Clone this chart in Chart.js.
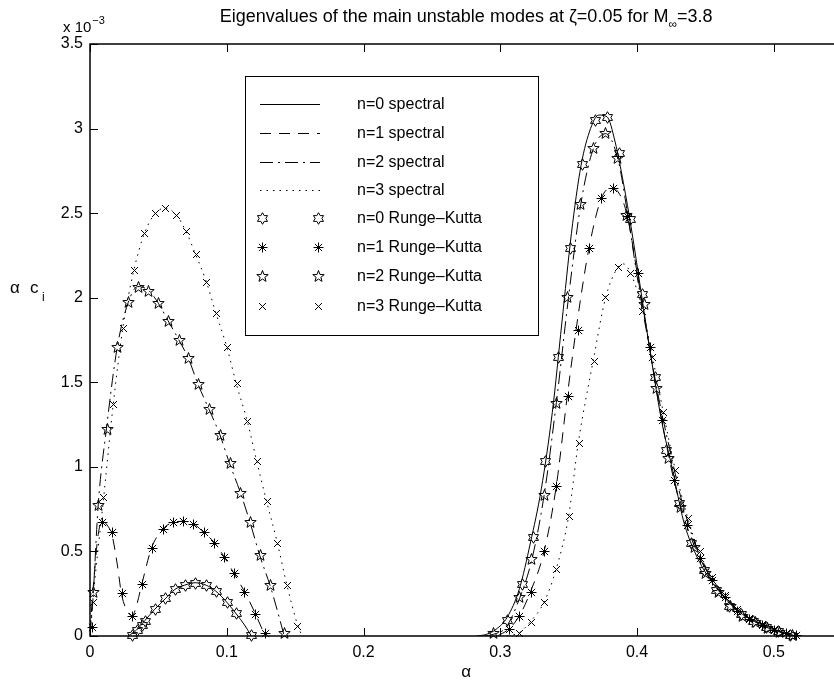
<!DOCTYPE html>
<html>
<head>
<meta charset="utf-8">
<script src="https://cdn.jsdelivr.net/npm/chart.js@4.4.0/dist/chart.umd.min.js"></script>
<style>
  html, body { margin: 0; padding: 0; background: #fff; overflow: hidden; }
  #wrap { width: 834px; height: 681px; position: relative; }
</style>
</head>
<body>
<div id="wrap"><canvas id="eig"></canvas></div>
<script>
// axis ticks (alpha, and alpha*c_i in units of 1e-3)
const xTicks = [0, 0.1, 0.2, 0.3, 0.4, 0.5];
const yTicks = [0, 0.5, 1, 1.5, 2, 2.5, 3, 3.5];

// spectral curves, left lobe and right lobe
const sp0LeftA = [0.028, 0.034, 0.040, 0.047, 0.055, 0.062, 0.069, 0.077, 0.085, 0.092, 0.100, 0.107, 0.113, 0.118];
const sp0LeftC = [0.00, 0.035, 0.09, 0.155, 0.22, 0.275, 0.30, 0.315, 0.30, 0.265, 0.20, 0.13, 0.065, 0.0];
const sp0RightA = [0.283, 0.290, 0.297, 0.305, 0.314, 0.322, 0.330, 0.338, 0.345, 0.352, 0.359, 0.366, 0.372, 0.378, 0.384, 0.390, 0.396, 0.403, 0.410, 0.418, 0.426, 0.434, 0.442, 0.452, 0.462, 0.472, 0.482, 0.492, 0.502, 0.510, 0.516];
const sp0RightC = [0.0, 0.01, 0.04, 0.11, 0.28, 0.55, 0.87, 1.32, 1.85, 2.38, 2.78, 3.0, 3.08, 3.07, 2.92, 2.68, 2.40, 2.03, 1.66, 1.27, 0.98, 0.68, 0.50, 0.35, 0.245, 0.16, 0.105, 0.07, 0.035, 0.012, 0.0];

const sp1LeftA = [0.000, 0.003, 0.006, 0.009, 0.013, 0.016, 0.020, 0.023, 0.027, 0.031, 0.034, 0.038, 0.045, 0.053, 0.061, 0.068, 0.076, 0.083, 0.091, 0.098, 0.105, 0.113, 0.121, 0.128];
const sp1LeftC = [0.03, 0.35, 0.60, 0.68, 0.65, 0.60, 0.42, 0.25, 0.15, 0.12, 0.18, 0.31, 0.52, 0.63, 0.672, 0.678, 0.662, 0.613, 0.552, 0.469, 0.374, 0.262, 0.13, 0.0];
const sp1RightA = [0.298, 0.306, 0.314, 0.322, 0.332, 0.341, 0.349, 0.357, 0.365, 0.374, 0.382, 0.388, 0.393, 0.400, 0.409, 0.418, 0.427, 0.436, 0.446, 0.455, 0.465, 0.475, 0.485, 0.495, 0.505, 0.512, 0.517];
const sp1RightC = [0.0, 0.04, 0.12, 0.26, 0.50, 0.89, 1.42, 1.90, 2.30, 2.59, 2.65, 2.60, 2.48, 2.15, 1.71, 1.28, 0.92, 0.66, 0.46, 0.33, 0.22, 0.14, 0.09, 0.05, 0.025, 0.008, 0.0];

const sp2LeftA = [0.000, 0.002, 0.006, 0.012, 0.020, 0.028, 0.035, 0.043, 0.050, 0.057, 0.065, 0.072, 0.079, 0.087, 0.095, 0.102, 0.110, 0.117, 0.124, 0.132, 0.137, 0.142];
const sp2LeftC = [0.0, 0.20, 0.775, 1.224, 1.711, 1.973, 2.066, 2.042, 1.967, 1.865, 1.75, 1.64, 1.488, 1.34, 1.189, 1.021, 0.847, 0.672, 0.479, 0.29, 0.15, 0.0];
const sp2RightA = [0.288, 0.295, 0.304, 0.314, 0.323, 0.332, 0.341, 0.350, 0.359, 0.368, 0.377, 0.386, 0.393, 0.400, 0.408, 0.416, 0.424, 0.432, 0.440, 0.450, 0.460, 0.470, 0.480, 0.490, 0.500, 0.510, 0.516];
const sp2RightC = [0.0, 0.01, 0.05, 0.22, 0.45, 0.83, 1.38, 2.01, 2.56, 2.88, 2.97, 2.82, 2.50, 2.13, 1.75, 1.40, 1.10, 0.82, 0.60, 0.40, 0.27, 0.18, 0.11, 0.07, 0.035, 0.01, 0.0];

const sp3LeftA = [0.000, 0.002, 0.010, 0.017, 0.024, 0.032, 0.040, 0.048, 0.055, 0.063, 0.070, 0.077, 0.085, 0.092, 0.100, 0.107, 0.115, 0.122, 0.129, 0.137, 0.144, 0.152, 0.155];
const sp3LeftC = [0.0, 0.20, 0.82, 1.37, 1.82, 2.16, 2.385, 2.50, 2.53, 2.49, 2.395, 2.26, 2.095, 1.91, 1.71, 1.49, 1.27, 1.03, 0.80, 0.55, 0.30, 0.06, 0.0];
const sp3RightA = [0.305, 0.314, 0.322, 0.332, 0.341, 0.350, 0.357, 0.368, 0.377, 0.386, 0.390, 0.395, 0.404, 0.412, 0.419, 0.428, 0.437, 0.446, 0.455, 0.465, 0.475, 0.485, 0.495, 0.505, 0.512, 0.517];
const sp3RightC = [0.0, 0.02, 0.085, 0.20, 0.40, 0.71, 1.14, 1.63, 2.00, 2.18, 2.20, 2.15, 1.93, 1.62, 1.33, 0.98, 0.70, 0.48, 0.34, 0.23, 0.15, 0.10, 0.06, 0.03, 0.01, 0.0];

// Runge-Kutta points
const rk0A = [0.0305, 0.0341, 0.0378, 0.0402, 0.0475, 0.0549, 0.0622, 0.0695, 0.0768, 0.0849, 0.0922, 0.1000, 0.1070, 0.1175,
              0.3048, 0.3158, 0.3238, 0.3328, 0.3419, 0.3511, 0.3597, 0.3689, 0.3780, 0.3865, 0.3945, 0.4036, 0.4128, 0.4214, 0.4304, 0.4395, 0.4487, 0.4580, 0.4670, 0.4760, 0.4850, 0.4940, 0.5030, 0.5120];
const rk0C = [0.006, 0.035, 0.065, 0.09, 0.158, 0.223, 0.276, 0.30, 0.315, 0.30, 0.268, 0.203, 0.134, 0.006,
              0.095, 0.306, 0.584, 1.037, 1.652, 2.296, 2.789, 3.051, 3.067, 2.854, 2.464, 2.02, 1.53, 1.10, 0.785, 0.55, 0.39, 0.27, 0.18, 0.13, 0.09, 0.055, 0.03, 0.008];

const rk1A = [0.0012, 0.0085, 0.0159, 0.0232, 0.0305, 0.0378, 0.0451, 0.0532, 0.0610, 0.0683, 0.0756, 0.0834, 0.0907, 0.0980, 0.1053, 0.1127, 0.1205, 0.1280,
              0.3060, 0.3140, 0.3224, 0.3316, 0.3409, 0.3492, 0.3565, 0.3645, 0.3736, 0.3823, 0.3926, 0.4006, 0.4097, 0.4182, 0.4272, 0.4365, 0.4462, 0.4548, 0.4640, 0.4730, 0.4820, 0.4910, 0.5000, 0.5090, 0.5160];
const rk1C = [0.055, 0.672, 0.617, 0.252, 0.12, 0.31, 0.522, 0.63, 0.672, 0.678, 0.662, 0.613, 0.552, 0.469, 0.374, 0.262, 0.13, 0.02,
              0.04, 0.118, 0.258, 0.504, 0.889, 1.419, 1.81, 2.296, 2.588, 2.647, 2.484, 2.145, 1.711, 1.277, 0.923, 0.656, 0.46, 0.331, 0.23, 0.15, 0.10, 0.065, 0.035, 0.015, 0.004];

const rk2A = [0.0024, 0.0061, 0.0122, 0.0200, 0.0276, 0.0349, 0.0427, 0.0500, 0.0573, 0.0649, 0.0719, 0.0793, 0.0873, 0.0951, 0.1024, 0.1097, 0.1170, 0.1244, 0.1317, 0.1415,
              0.2950, 0.3140, 0.3224, 0.3316, 0.3409, 0.3490, 0.3584, 0.3677, 0.3767, 0.3853, 0.3921, 0.4048, 0.4138, 0.4223, 0.4313, 0.4413, 0.4500, 0.4590, 0.4680, 0.4770, 0.4860, 0.4950, 0.5040, 0.5130];
const rk2C = [0.262, 0.775, 1.224, 1.711, 1.973, 2.066, 2.042, 1.967, 1.865, 1.75, 1.642, 1.488, 1.34, 1.189, 1.021, 0.847, 0.672, 0.479, 0.30, 0.02,
              0.016, 0.232, 0.454, 0.834, 1.38, 2.006, 2.555, 2.884, 2.973, 2.825, 2.49, 1.963, 1.465, 1.051, 0.76, 0.528, 0.37, 0.26, 0.18, 0.12, 0.08, 0.05, 0.025, 0.006];

const rk3A = [0.0024, 0.0097, 0.0166, 0.0244, 0.0324, 0.0397, 0.0475, 0.0549, 0.0627, 0.0700, 0.0773, 0.0849, 0.0922, 0.1000, 0.1073, 0.1146, 0.1220, 0.1293, 0.1366, 0.1439, 0.1512,
              0.3140, 0.3224, 0.3316, 0.3409, 0.3499, 0.3572, 0.3682, 0.3767, 0.3857, 0.3945, 0.4036, 0.4110, 0.4190, 0.4280, 0.4370, 0.4460, 0.4550, 0.4640, 0.4730, 0.4820, 0.4910, 0.5000, 0.5090];
const rk3C = [0.199, 0.824, 1.372, 1.823, 2.164, 2.385, 2.50, 2.529, 2.49, 2.395, 2.259, 2.095, 1.912, 1.711, 1.494, 1.273, 1.035, 0.80, 0.55, 0.30, 0.06,
              0.02, 0.085, 0.203, 0.396, 0.71, 1.14, 1.626, 2.006, 2.184, 2.145, 1.924, 1.65, 1.327, 0.982, 0.70, 0.50, 0.35, 0.24, 0.16, 0.105, 0.07, 0.04, 0.015];

const legendLabels = ['n=0 spectral', 'n=1 spectral', 'n=2 spectral', 'n=3 spectral',
                      'n=0 Runge\u2013Kutta', 'n=1 Runge\u2013Kutta', 'n=2 Runge\u2013Kutta', 'n=3 Runge\u2013Kutta'];

const FONT = '"Liberation Sans", Arial, Helvetica, sans-serif';
const xMax = 0.544;   // picture is cut off just before 0.55

function toPoints(a, c) {
  return a.map((v, i) => ({ x: v, y: c[i] }));
}
function twoLobes(aL, cL, aR, cR) {
  // null in between so the line breaks between the lobes
  return toPoints(aL, cL).concat([{ x: 0.2, y: null }], toPoints(aR, cR));
}

const markerKinds = ['hex', 'ast', 'pent', 'x'];
const dashes = [[], [11, 8], [13, 5, 2, 5], [1.5, 5]];

// matlab style markers: hexagram, asterisk, pentagram, x
function drawMarker(ctx, kind, px, py) {
  const m = Math.round(px) + 0.5, n = Math.round(py) + 0.5;
  function star(k, ro, ri) {
    ctx.beginPath();
    for (let j = 0; j < 2 * k; j++) {
      const r = j % 2 ? ri : ro;
      const ang = -Math.PI / 2 + j * Math.PI / k;
      const qx = m + r * Math.cos(ang), qy = n + r * Math.sin(ang);
      if (j === 0) ctx.moveTo(qx, qy); else ctx.lineTo(qx, qy);
    }
    ctx.closePath();
    ctx.stroke();
  }
  ctx.beginPath();
  if (kind === 'hex') {
    star(6, 5.8, 5.8 / Math.sqrt(3));
  } else if (kind === 'pent') {
    star(5, 6, 2.5);
  } else if (kind === 'ast') {
    ctx.moveTo(m, n - 5); ctx.lineTo(m, n + 5);
    ctx.moveTo(m - 5, n); ctx.lineTo(m + 5, n);
    ctx.moveTo(m - 3.6, n - 3.6); ctx.lineTo(m + 3.6, n + 3.6);
    ctx.moveTo(m - 3.6, n + 3.6); ctx.lineTo(m + 3.6, n - 3.6);
    ctx.stroke();
  } else {
    ctx.moveTo(m - 3.5, n - 3.5); ctx.lineTo(m + 3.5, n + 3.5);
    ctx.moveTo(m - 3.5, n + 3.5); ctx.lineTo(m + 3.5, n - 3.5);
    ctx.stroke();
  }
}

function spectralSet(data, i) {
  return {
    label: legendLabels[i],
    data: data,
    showLine: true,
    borderColor: '#000',
    borderWidth: 1,
    borderDash: dashes[i],
    pointRadius: 0,
    cubicInterpolationMode: 'monotone',
    spanGaps: false
  };
}
function rkSet(a, c, i) {
  return {
    label: legendLabels[i + 4],
    data: toPoints(a, c),
    showLine: false,
    pointRadius: 0,
    marker: markerKinds[i]
  };
}

// draws the RK markers at the element positions the chart computed
const rkMarkers = {
  id: 'rkMarkers',
  afterDatasetsDraw(chart) {
    const ctx = chart.ctx;
    ctx.save();
    ctx.strokeStyle = '#000';
    ctx.lineWidth = 1;
    ctx.setLineDash([]);
    chart.data.datasets.forEach((ds, i) => {
      if (!ds.marker) return;
      chart.getDatasetMeta(i).data.forEach(el => drawMarker(ctx, ds.marker, el.x, el.y));
    });
    ctx.restore();
  }
};

const decor = {
  id: 'decor',
  afterDraw(chart) {
    const { ctx, chartArea: a, scales: { x, y } } = chart;
    ctx.save();

    // axes box (right side is cut off in the picture)
    ctx.strokeStyle = '#000';
    ctx.lineWidth = 1.5;
    ctx.setLineDash([]);
    ctx.beginPath();
    ctx.moveTo(a.right, a.top); ctx.lineTo(a.left, a.top);
    ctx.lineTo(a.left, a.bottom); ctx.lineTo(a.right, a.bottom);
    ctx.stroke();

    // inward ticks
    ctx.lineWidth = 1;
    ctx.beginPath();
    xTicks.forEach(v => {
      const px = Math.round(x.getPixelForValue(v)) + 0.5;
      ctx.moveTo(px, a.bottom); ctx.lineTo(px, a.bottom - 8);
      ctx.moveTo(px, a.top); ctx.lineTo(px, a.top + 8);
    });
    yTicks.forEach(v => {
      const py = Math.round(y.getPixelForValue(v)) + 0.5;
      ctx.moveTo(a.left, py); ctx.lineTo(a.left + 8, py);
    });
    ctx.stroke();

    ctx.fillStyle = '#000';
    ctx.textBaseline = 'alphabetic';
    ctx.textAlign = 'left';

    // title with subscript infinity
    const t1 = 'Eigenvalues of the main unstable modes at \u03b6=0.05 for M';
    const t2 = '\u221e';
    const t3 = '=3.8';
    ctx.font = '18px ' + FONT;
    const w1 = ctx.measureText(t1).width, w3 = ctx.measureText(t3).width;
    ctx.font = '12px ' + FONT;
    const w2 = ctx.measureText(t2).width;
    const cx = x.getPixelForValue(0.275);
    const tx = cx - (w1 + w2 + w3) / 2;
    ctx.font = '18px ' + FONT;
    ctx.fillText(t1, tx, 22);
    ctx.font = '12px ' + FONT;
    ctx.fillText(t2, tx + w1, 28);
    ctx.font = '18px ' + FONT;
    ctx.fillText(t3, tx + w1 + w2, 22);

    // exponent label
    ctx.font = '15px ' + FONT;
    ctx.fillText('x 10', 63, 32);
    const wx = ctx.measureText('x 10').width;
    ctx.font = '11px ' + FONT;
    ctx.fillText('\u22123', 63 + wx + 1, 24);

    // y label
    ctx.font = '17px ' + FONT;
    ctx.fillText('\u03b1', 10, 293);
    ctx.fillText('c', 30, 293);
    ctx.font = '12px ' + FONT;
    ctx.fillText('i', 42, 301);

    // x label
    ctx.font = '17px ' + FONT;
    ctx.textAlign = 'center';
    ctx.fillText('\u03b1', x.getPixelForValue(0.275), 677);

    // legend box
    const L = 245, T = 76, R = 538, B = 335;
    ctx.fillStyle = '#fff';
    ctx.fillRect(L, T, R - L, B - T);
    ctx.strokeStyle = '#000';
    ctx.lineWidth = 1;
    ctx.strokeRect(L + 0.5, T + 0.5, R - L, B - T);
    const rows = [104, 133, 162, 190, 218, 247, 276, 306];
    ctx.textAlign = 'left';
    ctx.textBaseline = 'middle';
    rows.forEach((ry, i) => {
      if (i < 4) {
        ctx.setLineDash(dashes[i]);
        ctx.beginPath();
        ctx.moveTo(260, ry + 0.5); ctx.lineTo(320, ry + 0.5);
        ctx.stroke();
        ctx.setLineDash([]);
      } else {
        drawMarker(ctx, markerKinds[i - 4], 262, ry);
        drawMarker(ctx, markerKinds[i - 4], 318, ry);
      }
      ctx.font = '16px ' + FONT;
      ctx.fillStyle = '#000';
      ctx.fillText(legendLabels[i], 357, ry + 1);
    });

    ctx.restore();
  }
};

new Chart(document.getElementById('eig'), {
  type: 'scatter',
  data: {
    datasets: [
      spectralSet(twoLobes(sp0LeftA, sp0LeftC, sp0RightA, sp0RightC), 0),
      spectralSet(twoLobes(sp1LeftA, sp1LeftC, sp1RightA, sp1RightC), 1),
      spectralSet(twoLobes(sp2LeftA, sp2LeftC, sp2RightA, sp2RightC), 2),
      spectralSet(twoLobes(sp3LeftA, sp3LeftC, sp3RightA, sp3RightC), 3),
      rkSet(rk0A, rk0C, 0),
      rkSet(rk1A, rk1C, 1),
      rkSet(rk2A, rk2C, 2),
      rkSet(rk3A, rk3C, 3)
    ]
  },
  options: {
    responsive: true,
    maintainAspectRatio: false,
    animation: false,
    layout: { padding: { top: 44, left: 0, right: 0, bottom: 0 } },
    plugins: {
      legend: { display: false },
      title: { display: false },
      tooltip: { enabled: false }
    },
    scales: {
      x: {
        type: 'linear',
        min: 0,
        max: xMax,
        afterBuildTicks: s => { s.ticks = xTicks.map(v => ({ value: v })); },
        afterFit: s => { s.height = 45; },
        grid: { display: false, drawTicks: false },
        border: { display: false },
        ticks: {
          padding: 7,
          color: '#000',
          font: { family: FONT, size: 16 },
          maxRotation: 0,
          callback: v => String(+v.toFixed(2))
        }
      },
      y: {
        min: 0,
        max: 3.5,
        afterBuildTicks: s => { s.ticks = yTicks.map(v => ({ value: v })); },
        afterFit: s => { s.width = 90; },
        grid: { display: false, drawTicks: false },
        border: { display: false },
        ticks: {
          padding: 7,
          color: '#000',
          font: { family: FONT, size: 16 },
          callback: v => String(+v.toFixed(2))
        }
      }
    }
  },
  plugins: [rkMarkers, decor]
});
</script>
</body>
</html>
